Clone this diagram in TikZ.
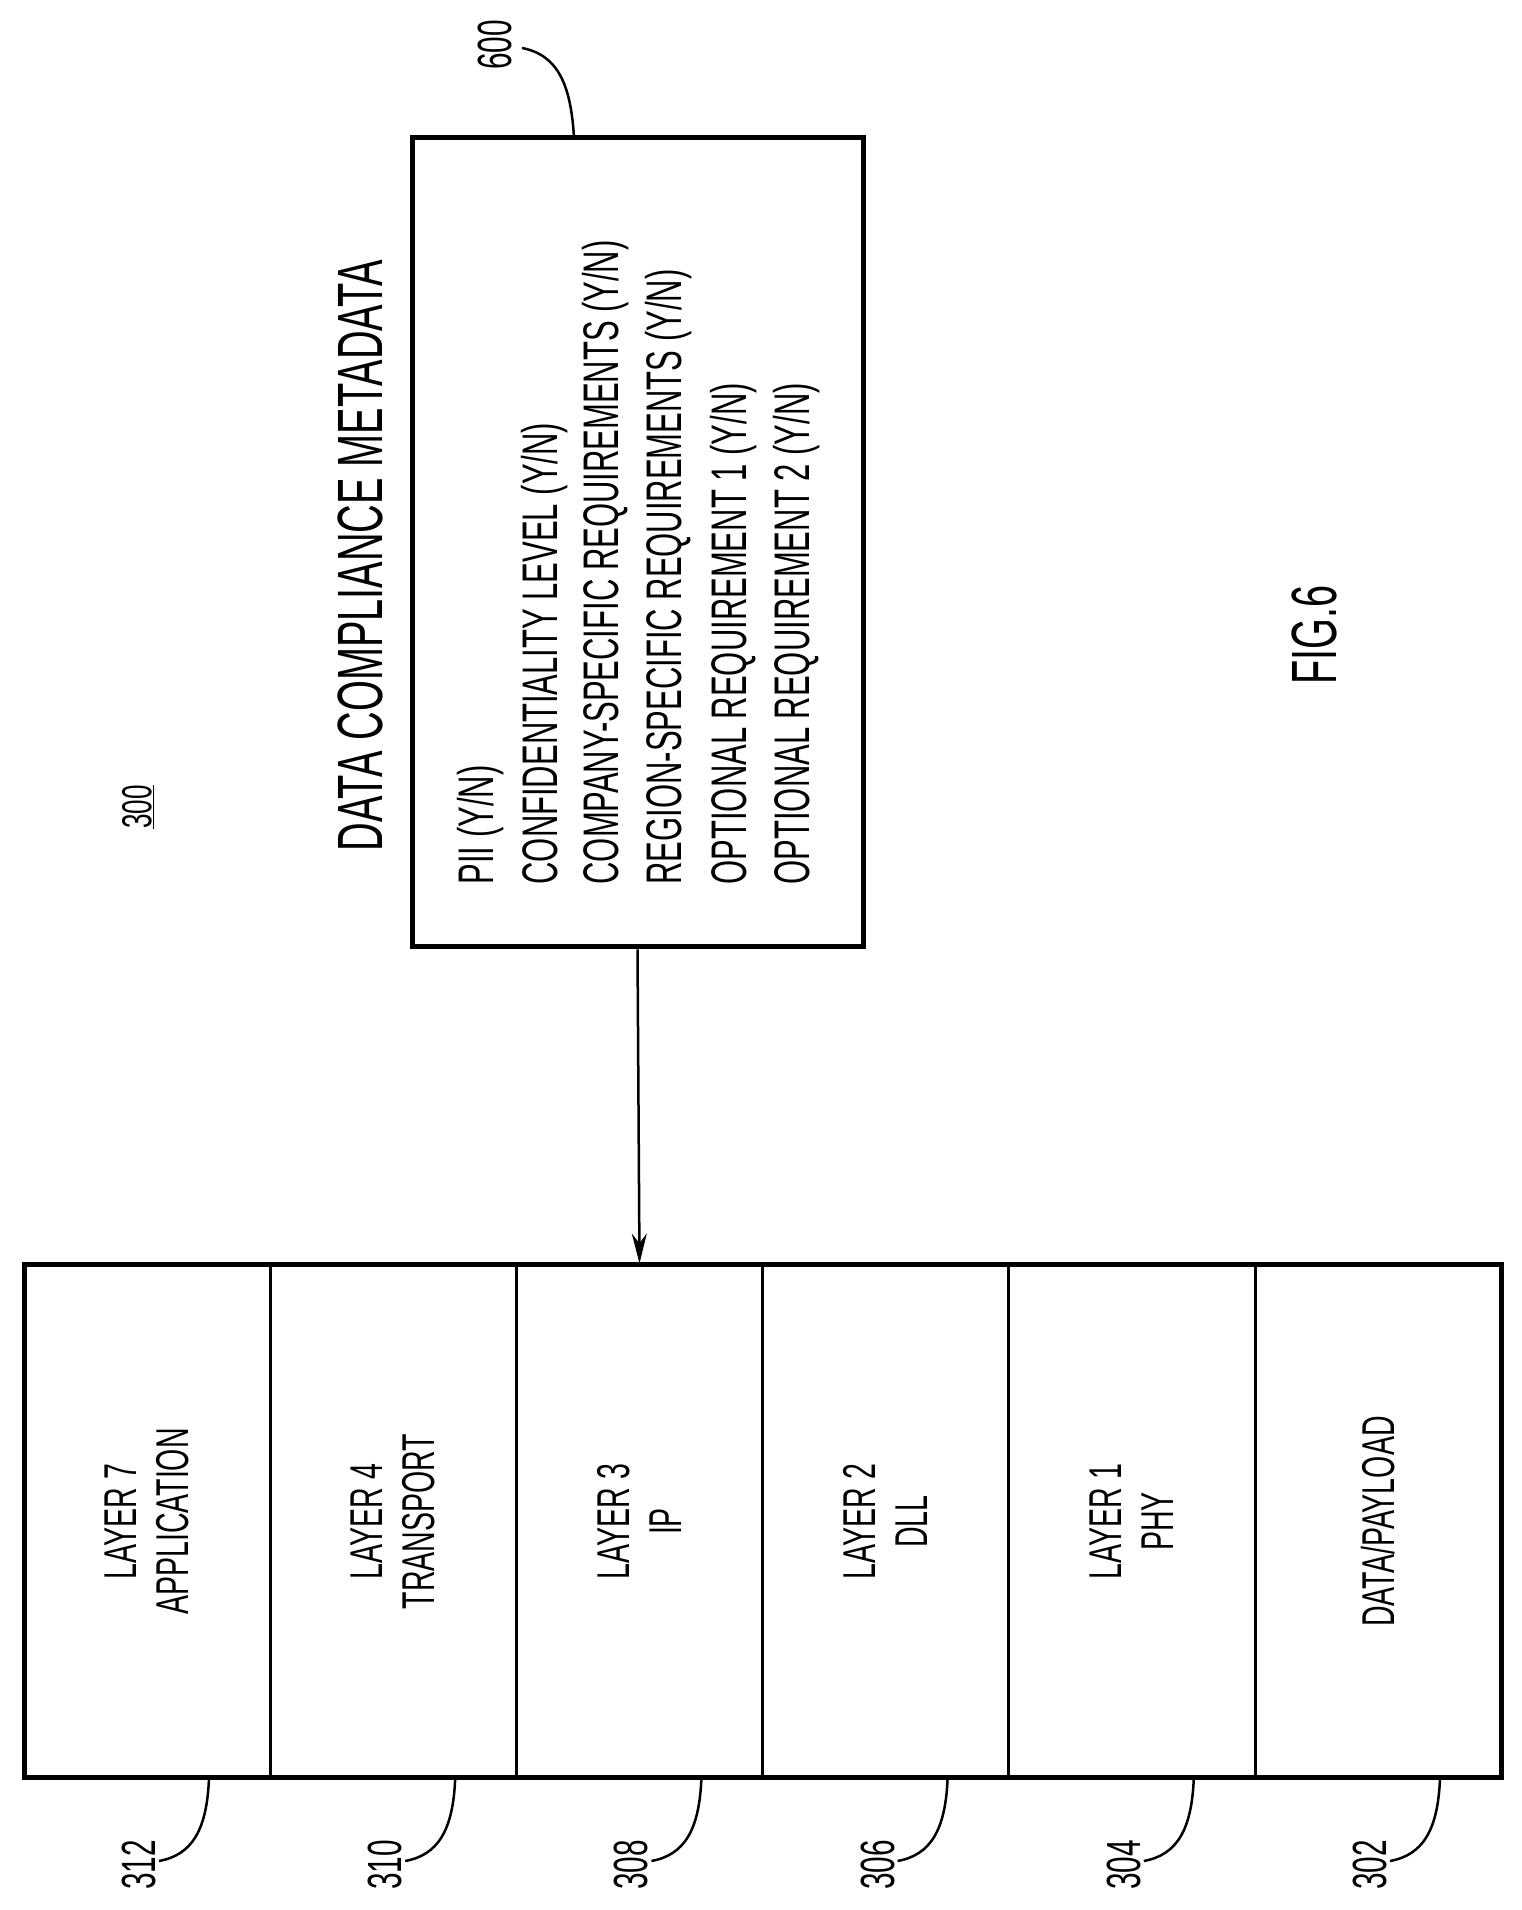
\documentclass[tikz,border=0pt]{standalone}
\usepackage{fontspec}
\setmainfont{Liberation Sans}[FakeStretch=0.62]
\usetikzlibrary{arrows.meta}
\newcommand{\fsz}[1]{\fontsize{#1}{#1}\selectfont}
\tikzset{
    cell/.style={draw, line width=3pt, minimum width=513pt, minimum height=246.2pt,
        inner sep=0pt, align=center, rotate=90, font=\fontsize{46}{52}\selectfont},
    refnum/.style={rotate=90, font=\fsz{48}},
    leader/.style={line width=2.5pt}
}
\begin{document}
\begin{tikzpicture}[x=1pt, y=1pt]
    \useasboundingbox (0, 0) rectangle (1521, 1910);
    % metadata box
    \node[draw, line width=5pt, minimum width=451pt, minimum height=809pt] (meta) at (637.5, 1367.5) {};
    \node[rotate=90, anchor=base west, font=\fsz{64}] (title) at (382, 1055) {DATA COMPLIANCE METADATA};
    \foreach \x/\t [count=\i] in {493/{PII (Y/N)}, 557/{CONFIDENTIALITY LEVEL (Y/N)},
        618/{COMPANY-SPECIFIC REQUIREMENTS (Y/N)}, 681/{REGION-SPECIFIC REQUIREMENTS (Y/N)},
        746/{OPTIONAL REQUIREMENT 1 (Y/N)}, 809/{OPTIONAL REQUIREMENT 2 (Y/N)}}
        \node[rotate=90, anchor=base west, font=\fsz{50}] (line\i) at (\x, 1022) {\t};
    \node[refnum] (n600) at (495, 1865) {600};
    \draw[leader] (574, 1772) .. controls (571, 1825) and (558, 1855) .. (522, 1862);
    % protocol stack
    \foreach \n/\t [count=\i] in {312/{LAYER 7\\APPLICATION}, 310/{LAYER 4\\TRANSPORT},
        308/{LAYER 3\\IP}, 306/{LAYER 2\\DLL}, 304/{LAYER 1\\PHY}, 302/{DATA/PAYLOAD}} {
        \pgfmathsetmacro{\cx}{24 + (\i - 0.5)*246.2}
        \pgfmathsetmacro{\lx}{24 + (\i - 1)*246.2}
        \node[cell] (c\n) at (\cx, 388.5) {\t};
        \node[refnum] (n\n) at (\lx + 115, 45) {\n};
        \draw[leader] (\lx + 185, 132) .. controls (\lx + 183, 80) and (\lx + 168, 55) .. (\lx + 135, 49);
    }
    \draw[line width=5pt] (24, 132) rectangle (1501, 645);
    \draw[line width=2.5pt, -{Stealth[length=30pt, width=15pt]}] (meta.south) -- (c308.east);
    \node[rotate=90, font=\fsz{42}] (n300) at (138, 1103) {\underline{300}};
    \node[rotate=90, font=\fsz{64}] (fig) at (1314, 1275) {FIG.6};
\end{tikzpicture}
\end{document}
